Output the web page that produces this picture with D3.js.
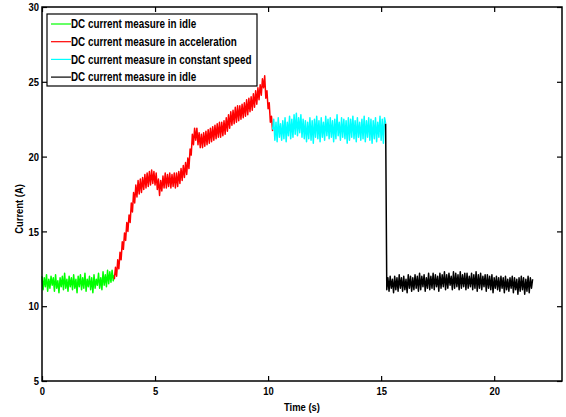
<!DOCTYPE html>
<html>
<head>
<meta charset="utf-8">
<script src="https://cdn.jsdelivr.net/npm/d3@7"></script>
<style>
  body { margin: 0; background: #fff; }
  svg text {
    font-family: "Liberation Sans", Arial, sans-serif;
    font-weight: bold;
    fill: #000;
  }
</style>
</head>
<body>
<script>
const sampleStep = 0.05;

// idle before moving, 0 .. 3.2 s
const idleStartT0 = 0;
const idleStartValues = [
  12.0, 11.1, 11.9, 11.3, 12.1, 11.0, 11.8, 11.2, 12.0, 11.4,
  11.9, 11.0, 12.1, 11.2, 11.7, 10.9, 11.9, 11.3, 12.0, 11.1,
  12.2, 11.2, 11.8, 11.0, 12.0, 11.3, 11.9, 11.1, 12.1, 11.2,
  11.8, 10.9, 12.0, 11.3, 12.1, 11.1, 11.9, 11.2, 12.2, 11.0,
  11.8, 11.3, 12.0, 11.1, 11.9, 10.9, 12.1, 11.2, 11.8, 11.4,
  12.2, 11.2, 11.9, 11.1, 12.3, 11.4, 12.1, 11.3, 12.4, 11.5,
  12.3, 11.6, 12.4, 11.7, 12.1
];

// acceleration, 3.2 .. 10.2 s
const accelT0 = 3.2;
const accelValues = [
  11.8, 12.6, 12.0, 13.1, 12.5, 13.6, 13.1, 14.3, 13.8, 14.9,
  14.4, 15.6, 15.0, 16.1, 15.6, 16.9, 16.3, 17.6, 16.9, 18.1,
  17.3, 18.4, 17.5, 18.5, 17.6, 18.6, 17.8, 18.8, 17.9, 18.9,
  18.0, 19.0, 18.1, 19.1, 18.2, 19.0, 18.1, 18.9, 17.8, 18.5,
  17.4, 18.4, 17.7, 18.7, 17.9, 18.9, 17.9, 18.8, 18.0, 18.9,
  17.9, 18.8, 18.0, 18.9, 17.9, 18.9, 18.0, 19.0, 18.2, 19.2,
  18.4, 19.4, 18.6, 19.6, 18.8, 19.9, 19.2, 20.5, 20.1, 21.5,
  20.8, 21.9, 21.1, 21.9, 20.8, 21.6, 20.6, 21.5, 20.6, 21.6,
  20.7, 21.7, 20.8, 21.8, 20.9, 21.9, 21.0, 22.0, 21.1, 22.1,
  21.2, 22.2, 21.3, 22.3, 21.3, 22.3, 21.4, 22.4, 21.5, 22.6,
  21.7, 22.8, 21.9, 23.0, 22.1, 23.1, 22.2, 23.3, 22.3, 23.4,
  22.4, 23.4, 22.5, 23.5, 22.6, 23.6, 22.7, 23.8, 22.8, 23.9,
  23.0, 24.0, 23.1, 24.2, 23.3, 24.4, 23.5, 24.6, 23.8, 24.8,
  24.1, 25.2, 24.6, 25.4, 23.9, 24.4, 23.2, 23.6, 22.3, 22.7,
  21.7
];

// constant speed, 10.2 .. 15.2 s
const cruiseT0 = 10.2;
const cruiseValues = [
  21.8, 22.5, 21.1, 22.3, 21.0, 22.6, 21.3, 22.2, 21.1, 22.4,
  21.2, 22.6, 21.0, 22.3, 21.4, 22.7, 21.2, 22.5, 21.3, 22.8,
  21.5, 22.9, 21.4, 22.6, 21.6, 22.8, 21.3, 22.5, 21.2, 22.4,
  21.0, 22.3, 21.2, 22.6, 21.1, 22.4, 20.9, 22.5, 21.3, 22.7,
  21.2, 22.4, 21.0, 22.6, 21.3, 22.3, 21.1, 22.7, 21.4, 22.5,
  21.2, 22.6, 21.3, 22.4, 21.0, 22.5, 21.2, 22.8, 21.4, 22.3,
  21.1, 22.6, 21.3, 22.5, 21.2, 22.4, 20.9, 22.6, 21.1, 22.5,
  21.3, 22.7, 21.2, 22.4, 21.0, 22.6, 21.3, 22.3, 21.1, 22.5,
  21.2, 22.7, 21.0, 22.4, 21.3, 22.6, 21.1, 22.5, 20.9, 22.4,
  21.2, 22.6, 21.0, 22.3, 21.3, 22.7, 21.1, 22.5, 20.9, 22.6,
  22.2
];

// idle after stopping, 15.2 .. 21.7 s (first sample is the drop)
const idleEndT0 = 15.2;
const idleEndValues = [
  22.2,
  11.1, 11.9, 11.0, 12.0, 11.2, 11.8, 10.9, 12.0, 11.1, 11.9,
  11.0, 12.1, 11.2, 11.9, 11.0, 12.0, 11.1, 11.8, 10.9, 12.1,
  11.2, 12.0, 11.0, 11.9, 11.1, 12.1, 11.2, 12.0, 11.0, 12.2,
  11.1, 12.0, 11.3, 12.1, 11.0, 11.9, 11.2, 12.2, 11.1, 12.0,
  11.2, 12.2, 11.1, 12.1, 11.3, 12.0, 11.0, 12.2, 11.2, 12.1,
  11.3, 12.3, 11.1, 12.1, 11.2, 12.2, 11.4, 12.0, 11.1, 12.3,
  11.2, 12.2, 11.3, 12.1, 11.1, 12.3, 11.2, 12.1, 11.3, 12.2,
  11.1, 12.2, 11.2, 12.0, 11.3, 12.2, 11.1, 12.1, 11.2, 12.3,
  11.0, 12.1, 11.2, 12.2, 11.1, 12.0, 11.3, 12.1, 11.0, 12.1,
  11.2, 12.0, 11.1, 12.1, 10.9, 11.9, 11.2, 12.0, 11.1, 11.9,
  11.0, 12.0, 11.2, 11.9, 10.9, 12.0, 11.1, 11.8, 11.0, 11.9,
  11.2, 12.0, 10.9, 11.9, 11.1, 11.8, 10.8, 11.9, 11.0, 12.0,
  11.1, 11.9, 10.8, 11.8, 11.0, 12.0, 10.9, 11.9, 11.2, 11.8
];

const seriesLabels = [
  'DC current measure in idle',
  'DC current measure in acceleration',
  'DC current measure in constant speed',
  'DC current measure in idle'
];
const seriesColors = ['#00ff00', '#ff0000', '#00ffff', '#000000'];

const xTicks = [0, 5, 10, 15, 20];
const yTicks = [5, 10, 15, 20, 25, 30];
const xLabel = 'Time (s)';
const yLabel = 'Current (A)';

const toPoints = (t0, values) => values.map((v, i) => ({t: t0 + i * sampleStep, v}));

// the original uses a narrow bold face; squeeze Liberation Sans to match
const narrow = sel => sel.each(function() {
  const len = this.getComputedTextLength();
  if (len > 0) {
    d3.select(this)
      .attr('textLength', len * 0.82)
      .attr('lengthAdjust', 'spacingAndGlyphs');
  }
});

document.addEventListener('DOMContentLoaded', () => {
  const width = 566;
  const height = 417;
  const margin = {top: 7, right: 4, bottom: 36, left: 42};
  const w = width - margin.left - margin.right;
  const h = height - margin.top - margin.bottom;

  const series = [
    toPoints(idleStartT0, idleStartValues),
    toPoints(accelT0, accelValues),
    toPoints(cruiseT0, cruiseValues),
    toPoints(idleEndT0, idleEndValues)
  ];

  const x = d3.scaleLinear().domain([0, 23]).range([0, w]);
  const y = d3.scaleLinear().domain([5, 30]).range([h, 0]);

  const svg = d3.select('body').append('svg')
    .attr('width', width)
    .attr('height', height);

  const g = svg.append('g')
    .attr('transform', `translate(${margin.left},${margin.top})`);

  // traces
  const line = d3.line().x(d => x(d.t)).y(d => y(d.v));
  g.selectAll('.trace')
    .data(series)
    .enter().append('path')
      .attr('class', 'trace')
      .attr('d', line)
      .attr('fill', 'none')
      .attr('stroke', (d, i) => seriesColors[i])
      .attr('stroke-width', 1.5)
      .attr('stroke-linejoin', 'round');

  // matlab style box: ticks inside on all four sides
  const styleAxis = sel => {
    sel.select('.domain').remove();
    sel.selectAll('line').attr('stroke', '#000').attr('stroke-width', 1.2);
    sel.selectAll('text').style('font-size', '11.5px').call(narrow);
  };

  g.append('g')
    .attr('transform', `translate(0,${h})`)
    .call(d3.axisBottom(x).tickValues(xTicks).tickSizeInner(-5).tickSizeOuter(0).tickPadding(6))
    .call(styleAxis);
  g.append('g')
    .call(d3.axisTop(x).tickValues(xTicks).tickSizeInner(-5).tickSizeOuter(0).tickFormat(''))
    .call(styleAxis);
  g.append('g')
    .call(d3.axisLeft(y).tickValues(yTicks).tickSizeInner(-5).tickSizeOuter(0).tickPadding(3))
    .call(styleAxis);
  g.append('g')
    .attr('transform', `translate(${w},0)`)
    .call(d3.axisRight(y).tickValues(yTicks).tickSizeInner(-5).tickSizeOuter(0).tickFormat(''))
    .call(styleAxis);

  g.append('rect')
    .attr('width', w)
    .attr('height', h)
    .attr('fill', 'none')
    .attr('stroke', '#000')
    .attr('stroke-width', 1.5);

  // axis titles
  svg.append('text')
    .attr('x', margin.left + x(11.5))
    .attr('y', 411)
    .attr('text-anchor', 'middle')
    .style('font-size', '11.5px')
    .text(xLabel)
    .call(narrow);

  svg.append('text')
    .attr('transform', `translate(23,${margin.top + y(16.5)}) rotate(-90)`)
    .attr('text-anchor', 'middle')
    .style('font-size', '11.5px')
    .text(yLabel)
    .call(narrow);

  // legend
  const legend = svg.append('g').attr('transform', 'translate(47,14)');
  legend.append('rect')
    .attr('width', 210)
    .attr('height', 72)
    .attr('fill', '#fff')
    .attr('stroke', '#000')
    .attr('stroke-width', 1.2);

  const item = legend.selectAll('.item')
    .data(seriesLabels)
    .enter().append('g')
      .attr('class', 'item')
      .attr('transform', (d, i) => `translate(0,${10 + i * 17.7})`);
  item.append('line')
    .attr('x1', 4).attr('x2', 24)
    .attr('stroke', (d, i) => seriesColors[i])
    .attr('stroke-width', 1.2);
  item.append('text')
    .attr('x', 24)
    .attr('dy', '0.36em')
    .style('font-size', '12px')
    .text(d => d)
    .call(narrow);
}, false);
</script>
</body>
</html>
